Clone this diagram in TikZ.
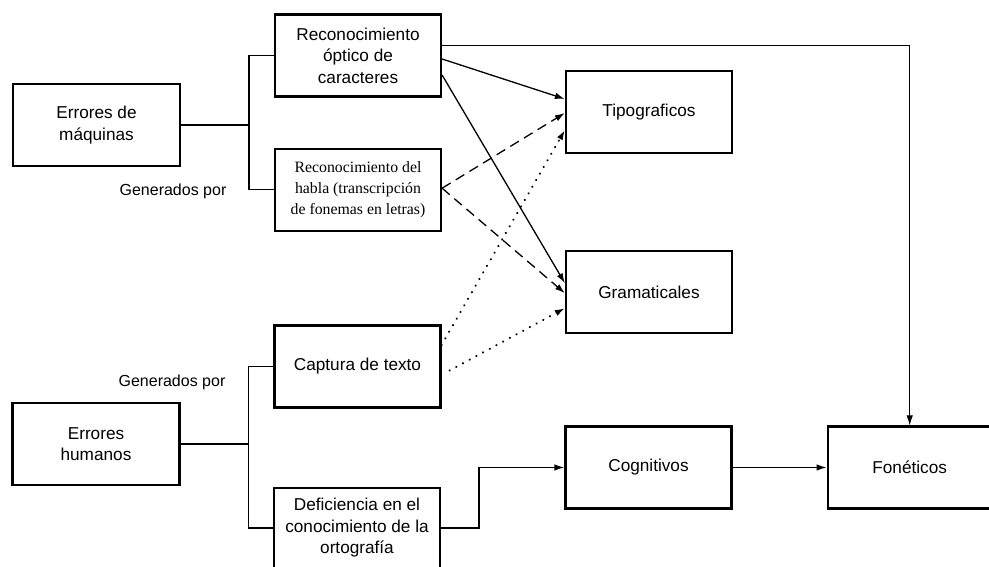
\documentclass[tikz,border=0pt]{standalone}
\usepackage{fontspec}
\setmainfont{Liberation Sans}
\newfontfamily\hablafont{Liberation Serif}
\usepackage{tikz}
\usetikzlibrary{arrows.meta, positioning, calc}

\begin{document}
\begin{tikzpicture}[x=1pt, y=1pt, >={Latex[length=10pt,width=6.5pt]}]
    \tikzstyle{block} = [rectangle, draw, line width=2.2pt, align=center, minimum width=166pt, minimum height=82pt, inner sep=2pt, font=\fontsize{17.2}{21.5}\selectfont]
    \tikzstyle{line} = [draw, ->, line width=1.3pt]
    \tikzstyle{note} = [font=\fontsize{16}{18}\selectfont]
    \useasboundingbox (0,0) rectangle (989,-567);

    % origen de los errores
    \node [block, minimum width=167pt] (maq) at (96.5,-125) {Errores de\\máquinas};
    \node [block, minimum width=167pt] (hum) at (96,-444) {Errores\\humanos};

    % causas
    \node [block] (ocr) at (358,-55.5) {Reconocimiento\\óptico de\\caracteres};
    \node [block, below=50pt of ocr, font=\hablafont\fontsize{15.8}{21}\selectfont] (habla) {Reconocimiento del\\habla (transcripción\\de fonemas en letras)};
    \node [block] (captura) at (357.5,-366.5) {Captura de texto};
    \node [block, minimum height=80pt] (defic) at (357,-528) {Deficiencia en el\\conocimiento de la\\ortografía};

    % tipos de error
    \node [block] (tipo) at (649,-112) {Tipograficos};
    \node [block, below=96pt of tipo] (gram) {Gramaticales};
    \node [block] (cogn) at (648.5,-467.5) {Cognitivos};
    \node [block, minimum width=164pt, right=94pt of cogn] (fone) {Fonéticos};

    \node [note] (gen1) at (173,-191) {Generados por};
    \node [note] (gen2) at (172,-382) {Generados por};

    % llaves
    \draw [line width=1.3pt] (ocr.west) -- ++(-25,0) coordinate (mfork) |- (habla.west);
    \draw [line width=1.3pt] (maq.east) -- (maq.east -| mfork);
    \draw [line width=1.3pt] (captura.west) -- ++(-25,0) coordinate (hfork) |- (defic.west);
    \draw [line width=1.3pt] (hum.east) -- (hum.east -| hfork);

    % flechas
    \path [line, line width=0.9pt] ([yshift=10.5pt]ocr.east) -| (fone.north);
    \path [line] ([yshift=-3.5pt]ocr.east) -- ([yshift=13pt]tipo.west);
    \path [line] ([yshift=-19.5pt]ocr.east) -- ([yshift=9pt]gram.west);
    \path [line, dash pattern=on 10pt off 6pt] ([yshift=1.5pt]habla.east) -- ([yshift=-1pt]tipo.west);
    \path [line, dash pattern=on 10pt off 6pt] ([yshift=1.5pt]habla.east) -- ([yshift=-1pt]gram.west);
    \path [line, line cap=round, dash pattern=on 0.1pt off 7.5pt, line width=2.3pt] ([yshift=21.5pt]captura.east) -- ([yshift=-18pt]tipo.west);
    \path [line, line cap=round, dash pattern=on 0.1pt off 7.5pt, line width=2.3pt] ([xshift=8pt,yshift=-4pt]captura.east) -- ([yshift=-16pt]gram.west);
    \path [line] (defic.east) -- ++(38,0) |- (cogn.west);
    \path [line] (cogn) -- (fone);
\end{tikzpicture}
\end{document}
